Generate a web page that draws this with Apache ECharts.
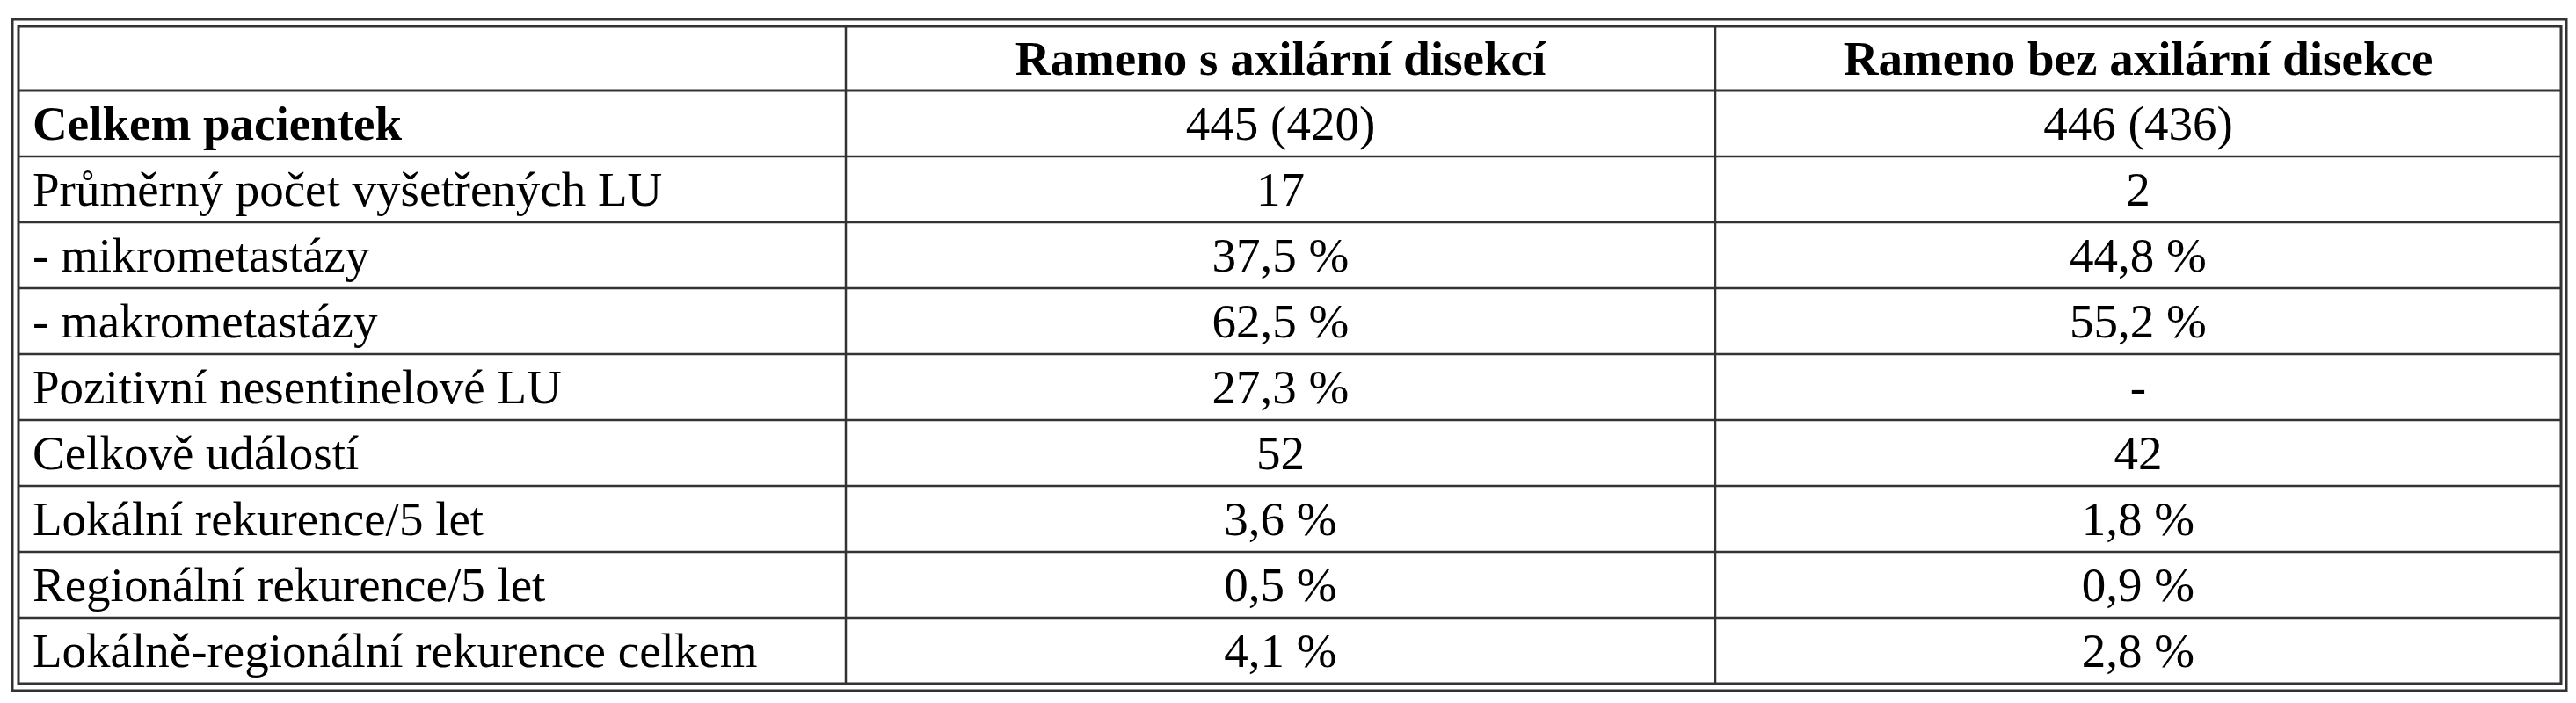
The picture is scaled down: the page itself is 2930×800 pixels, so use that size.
<!DOCTYPE html>
<html><head><meta charset="utf-8">
<script src="https://cdn.jsdelivr.net/npm/echarts@6/dist/echarts.min.js"></script>
<style>html,body{margin:0;padding:0;background:#fff}#c{width:2930px;height:800px}</style>
</head><body><div id="c"></div>
<script>
const headers = ['', 'Rameno s axilární disekcí', 'Rameno bez axilární disekce'];
const rowLabels = ['Celkem pacientek','Průměrný počet vyšetřených LU','- mikrometastázy','- makrometastázy','Pozitivní nesentinelové LU','Celkově událostí','Lokální rekurence/5 let','Regionální rekurence/5 let','Lokálně-regionální rekurence celkem'];
const withDissection = ['445 (420)','17','37,5 %','62,5 %','27,3 %','52','3,6 %','0,5 %','4,1 %'];
const withoutDissection = ['446 (436)','2','44,8 %','55,2 %','-','42','1,8 %','0,9 %','2,8 %'];

const L=21,T=30,R=2913,B=778,H0=103,C1=962,C2=1951;
const rh=(B-H0)/rowLabels.length;
const col='#333';
const font='55px "Liberation Serif", "DejaVu Serif", serif';
const els=[];
const line=(x1,y1,x2,y2,w)=>els.push({type:'line',shape:{x1,y1,x2,y2},style:{stroke:col,lineWidth:w}});
els.push({type:'rect',shape:{x:14,y:22,width:2905,height:764},style:{fill:'none',stroke:col,lineWidth:3}});
els.push({type:'rect',shape:{x:L,y:T,width:R-L,height:B-T},style:{fill:'none',stroke:col,lineWidth:3}});
line(C1,T,C1,B,2.5);line(C2,T,C2,B,2.5);
line(L,H0,R,H0,3);
for(let i=1;i<rowLabels.length;i++) line(L,H0+i*rh,R,H0+i*rh,2.5);
const cx1=(C1+C2)/2,cx2=(C2+R)/2;
const txt=(x,y,s,align,bold)=>els.push({type:'text',x,y,style:{text:s,font:(bold?'bold ':'')+font,fill:'#000',align,verticalAlign:'middle'}});
txt(cx1,(T+H0)/2+4,headers[1],'center',true);
txt(cx2,(T+H0)/2+4,headers[2],'center',true);
rowLabels.forEach((lab,i)=>{
  const y=H0+(i+0.5)*rh+4;
  txt(37,y,lab,'left',i===0);
  txt(cx1,y,withDissection[i],'center',false);
  txt(cx2,y,withoutDissection[i],'center',false);
});
const ch=echarts.init(document.getElementById('c'));
ch.setOption({animation:false,graphic:{elements:els}});
</script></body></html>
